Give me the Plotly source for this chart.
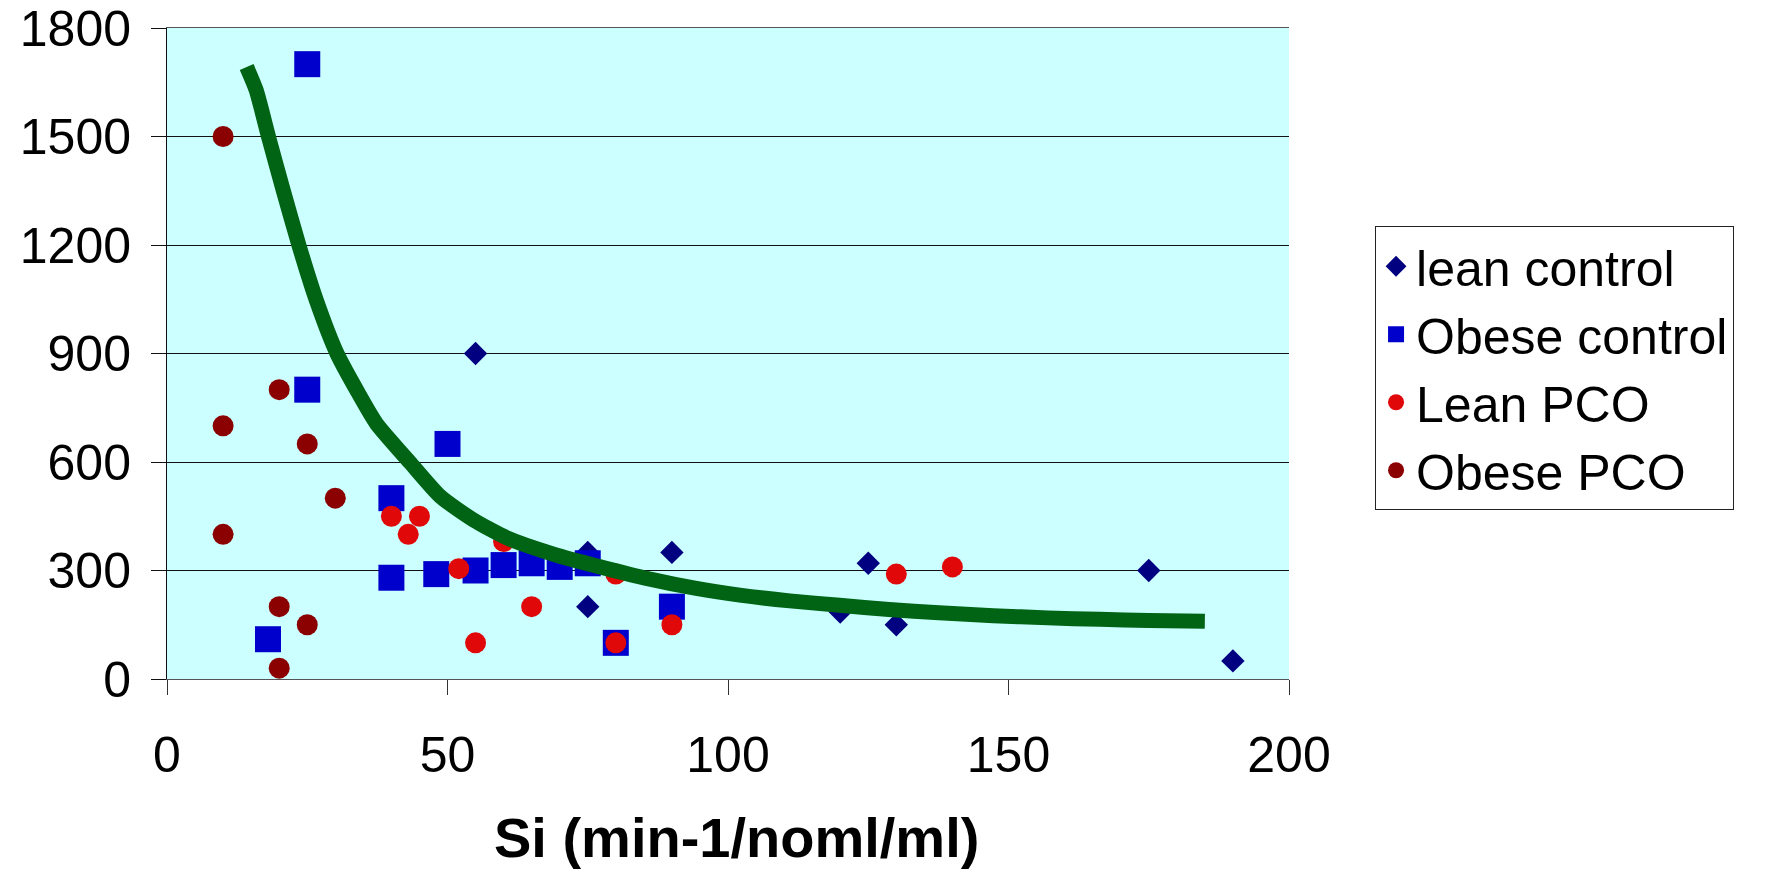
import plotly.graph_objects as go

# ---- data ----
lean_control_x = [55, 75, 75, 90, 120, 125, 130, 175, 190]
lean_control_y = [900, 350, 200, 350, 185, 320, 150, 300, 50]

obese_control_x = [25, 25, 50, 40, 40, 48, 55, 60, 65, 70, 75, 80, 18, 90]
obese_control_y = [1700, 800, 650, 500, 280, 290, 300, 315, 320, 310, 320, 100, 110, 200]

lean_pco_x = [40, 45, 43, 60, 52, 65, 55, 80, 80, 90, 130, 140]
lean_pco_y = [450, 450, 400, 380, 305, 200, 100, 100, 290, 150, 290, 310]

obese_pco_x = [10, 20, 10, 25, 30, 10, 20, 25, 20]
obese_pco_y = [1500, 800, 700, 650, 500, 400, 200, 150, 30]

curve_x = [14.2, 15.9, 18.1, 20.7, 23.5, 26.6, 30.3, 33.8, 37.3, 43.3, 48.7, 54.6,
           60.6, 68.9, 77.2, 86.1, 94.1, 102.1, 111, 119.9, 128.7, 137.6, 147.3,
           157, 166.3, 175, 185]
curve_y = [1692, 1628, 1499, 1352, 1200, 1048, 900, 799, 707, 599, 505, 440,
           390, 345, 310, 276, 251, 232, 216, 204, 192, 183, 175, 169, 165, 162, 160]

x_ticks = [0, 50, 100, 150, 200]
y_ticks = [0, 300, 600, 900, 1200, 1500, 1800]
x_title = "Si (min-1/noml/ml)"

FONT = "Liberation Sans, Arial, sans-serif"

fig = go.Figure()
fig.add_trace(go.Scatter(x=lean_control_x, y=lean_control_y, mode="markers",
                         name="lean control",
                         marker=dict(symbol="diamond", size=18, color="#000080")))
fig.add_trace(go.Scatter(x=obese_control_x, y=obese_control_y, mode="markers",
                         name="Obese control",
                         marker=dict(symbol="square", size=26, color="#0000CC")))
fig.add_trace(go.Scatter(x=lean_pco_x, y=lean_pco_y, mode="markers",
                         name="Lean PCO",
                         marker=dict(symbol="circle", size=21, color="#E00808")))
fig.add_trace(go.Scatter(x=obese_pco_x, y=obese_pco_y, mode="markers",
                         name="Obese PCO",
                         marker=dict(symbol="circle", size=21, color="#8B0000")))
fig.add_trace(go.Scatter(x=curve_x, y=curve_y, mode="lines", showlegend=False,
                         line=dict(color="#006414", width=15, shape="spline",
                                   smoothing=0.6),
                         hoverinfo="skip"))

fig.update_layout(
    width=1770, height=872,
    margin=dict(l=159, r=489, t=20, b=201, autoexpand=False),
    paper_bgcolor="white",
    plot_bgcolor="#CCFFFF",
    font=dict(family=FONT, color="black"),
    showlegend=True,
    legend=dict(x=1.0767, y=0.6955, xanchor="left", yanchor="top",
                bgcolor="white", bordercolor="#222", borderwidth=1,
                font=dict(family=FONT, size=50, color="black"),
                tracegroupgap=0),
    annotations=[dict(text="<b>" + x_title + "</b>", xref="paper", yref="paper",
                      x=0.508, y=-0.244, xanchor="center", yanchor="middle",
                      showarrow=False,
                      font=dict(family=FONT, size=56, color="black"))],
)
fig.update_xaxes(range=[0, 200], tickvals=x_ticks, ticktext=[str(v) for v in x_ticks],
                 showgrid=False, zeroline=False, showline=True, linecolor="#555",
                 linewidth=1, mirror=True, ticks="outside", ticklen=15, tickcolor="#333",
                 tickfont=dict(family=FONT, size=50, color="black"),
                 ticklabelstandoff=17, ticklabeloverflow="allow", automargin=False)
fig.update_yaxes(range=[0, 1800], tickvals=y_ticks, ticktext=[str(v) for v in y_ticks],
                 showgrid=True, gridcolor="#111", gridwidth=1, zeroline=False,
                 showline=True, linecolor="#111", linewidth=1, ticks="outside",
                 ticklen=15, tickcolor="#111",
                 tickfont=dict(family=FONT, size=50, color="black"),
                 ticklabelstandoff=10, ticklabeloverflow="allow", automargin=False)

fig.write_html("out.html")
